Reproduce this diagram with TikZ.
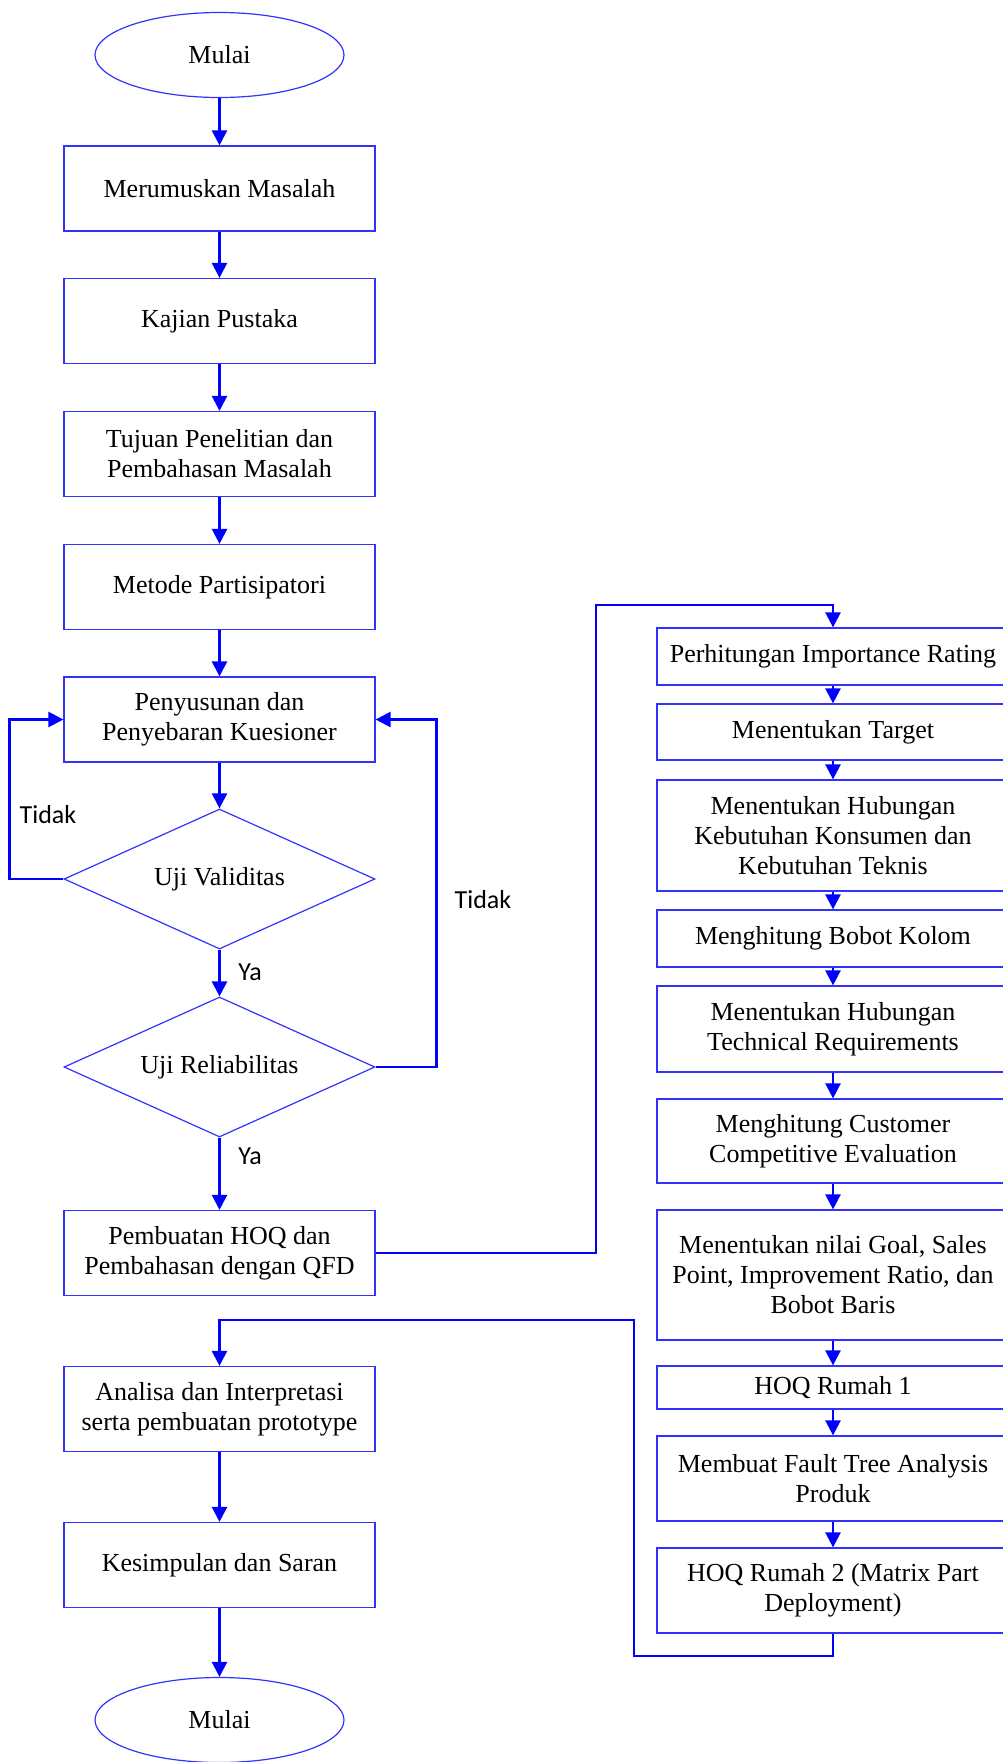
\documentclass[tikz,border=0pt]{standalone}
\usepackage{fontspec}
\setmainfont{Liberation Serif}
\newfontfamily\labelfont{Carlito}
\usetikzlibrary{shapes.geometric,arrows.meta}

\definecolor{flowblue}{RGB}{0,0,255}
\definecolor{edgeblue}{RGB}{50,50,255}

\tikzset{
  proses/.style={draw=edgeblue, line width=1.2pt, rectangle, minimum width=311pt,
    minimum height=85pt, inner sep=0pt, align=center, font=\fontsize{26}{30}\selectfont},
  proseskanan/.style={proses, minimum width=352pt},
  terminal/.style={draw=edgeblue, line width=1.2pt, ellipse, minimum width=249pt,
    minimum height=85pt, inner sep=0pt, font=\fontsize{26}{30}\selectfont},
  keputusan/.style={draw=edgeblue, line width=1.2pt, diamond, aspect=2.2, minimum width=311pt,
    minimum height=140pt, inner sep=0pt, font=\fontsize{26}{30}\selectfont},
  garis/.style={draw=flowblue, line width=2.4pt},
  panah/.style={garis, -{Triangle[width=15pt,length=15pt]}},
  ket/.style={font=\labelfont\fontsize{26}{30}\selectfont}
}

\begin{document}
\begin{tikzpicture}[x=1pt, y=-1pt]
\useasboundingbox (0,0) rectangle (1003,1762);
%%   kw   (name)   (x, y)   {text}
    \node[terminal] (mulai) at (219.5,55) {Mulai};
    \node[proses] (rumusan) at (219.5,188.5) {Merumuskan Masalah};
    \node[proses] (kajian) at (219.5,321) {Kajian Pustaka};
    \node[proses] (tujuan) at (219.5,454) {Tujuan Penelitian dan\\Pembahasan Masalah};
    \node[proses] (metode) at (219.5,587) {Metode Partisipatori};
    \node[proses] (kuesioner) at (219.5,719.5) {Penyusunan dan\\Penyebaran Kuesioner};
    \node[keputusan] (validitas) at (219.5,879) {Uji Validitas};
    \node[keputusan] (reliabilitas) at (219.5,1067) {Uji Reliabilitas};
    \node[proses] (hoq) at (219.5,1253) {Pembuatan HOQ dan\\Pembahasan dengan QFD};
    \node[proses] (analisa) at (219.5,1409) {Analisa dan Interpretasi\\serta pembuatan prototype};
    \node[proses] (simpulan) at (219.5,1565) {Kesimpulan dan Saran};
    \node[terminal] (selesai) at (219.5,1720) {Mulai};

%%   right column
    \node[proseskanan, minimum height=57pt] (rating) at (833,656.5) {Perhitungan Importance Rating};
    \node[proseskanan, minimum height=56pt] (target) at (833,732) {Menentukan Target};
    \node[proseskanan, minimum height=111pt] (kebutuhan) at (833,835.5) {Menentukan Hubungan\\Kebutuhan Konsumen dan\\Kebutuhan Teknis};
    \node[proseskanan, minimum height=57pt] (kolom) at (833,938.5) {Menghitung Bobot Kolom};
    \node[proseskanan, minimum height=86pt] (teknis) at (833,1029) {Menentukan Hubungan\\Technical Requirements};
    \node[proseskanan, minimum height=84pt] (customer) at (833,1141) {Menghitung Customer\\Competitive Evaluation};
    \node[proseskanan, minimum height=130pt] (goal) at (833,1275) {Menentukan nilai Goal, Sales\\Point, Improvement Ratio, dan\\Bobot Baris};
    \node[proseskanan, minimum height=43pt] (rumah1) at (833,1387.5) {HOQ Rumah 1};
    \node[proseskanan, minimum height=85pt] (fta) at (833,1478.5) {Membuat Fault Tree Analysis\\Produk};
    \node[proseskanan, minimum height=85pt] (rumah2) at (833,1590.5) {HOQ Rumah 2 (Matrix Part\\Deployment)};

    \coordinate (naik) at (596,605);
    \coordinate (bawah) at (634,1656);
    \coordinate (balik) at (634,1320);

    \draw[panah] (mulai) -- (rumusan);
    \draw[panah] (rumusan) -- (kajian);
    \draw[panah] (kajian) -- (tujuan);
    \draw[panah] (tujuan) -- (metode);
    \draw[panah] (metode) -- (kuesioner);
    \draw[panah] (kuesioner) -- (validitas);
    \draw[panah] (validitas) -- (reliabilitas);
    \draw[panah] (reliabilitas) -- (hoq);
    \draw[panah] (analisa) -- (simpulan);
    \draw[panah] (simpulan) -- (selesai);
    \draw[panah] (validitas.west) -- ++(-54,0) |- (kuesioner.west);
    \draw[panah] (reliabilitas.east) -- ++(61,0) |- (kuesioner.east);
    \draw[panah] (hoq.east) -| (naik) -| (rating.north);
    \draw[panah] (rating) -- (target);
    \draw[panah] (target) -- (kebutuhan);
    \draw[panah] (kebutuhan) -- (kolom);
    \draw[panah] (kolom) -- (teknis);
    \draw[panah] (teknis) -- (customer);
    \draw[panah] (customer) -- (goal);
    \draw[panah] (goal) -- (rumah1);
    \draw[panah] (rumah1) -- (fta);
    \draw[panah] (fta) -- (rumah2);
    \draw[panah] (rumah2.south) |- (bawah) -- (balik) -| (analisa.north);

    \node[ket] (tidak1) at (48,815) {Tidak};
    \node[ket] (tidak2) at (483,900) {Tidak};
    \node[ket] (ya1) at (250,972) {Ya};
    \node[ket] (ya2) at (250,1156) {Ya};
\end{tikzpicture}
\end{document}
